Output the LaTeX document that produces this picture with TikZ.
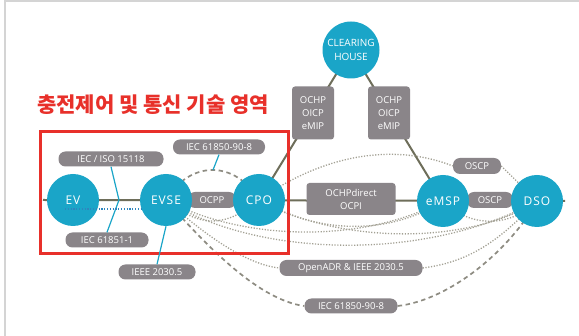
\documentclass[tikz,border=0pt]{standalone}
\usepackage{fontspec}
\setmainfont{Open Sans}
\newfontfamily\krfont{Noto Sans CJK KR}
\newfontfamily\actorfont[LetterSpace=8]{Open Sans}
\usetikzlibrary{backgrounds,calc}
\definecolor{evcyan}{HTML}{1AA5C8}
\definecolor{lblgray}{HTML}{8A8589}
\definecolor{olivegray}{HTML}{6E6E5A}
\definecolor{dotgray}{HTML}{A3A194}
\definecolor{dashgray}{HTML}{8E8C82}
\definecolor{boxred}{HTML}{E8302A}
\definecolor{dotblue}{HTML}{2E86BE}
\definecolor{framegray}{HTML}{D4D4D4}
\begin{document}
\begin{tikzpicture}[x=1pt,y=-1pt,
  actor/.style={circle,fill=evcyan,minimum size=52pt,inner sep=0pt,text=white,font=\actorfont\fontsize{12}{12}\selectfont},
  pill/.style={fill=lblgray,rounded corners=7pt,minimum height=15pt,inner sep=0pt,text=white,font=\fontsize{9.5}{11}\selectfont},
  tag/.style={fill=lblgray,rounded corners=3pt,inner sep=0pt,text=white,align=center,font=\fontsize{9.5}{13}\selectfont},
  solidlink/.style={draw=olivegray,line width=2pt},
  dotlink/.style={draw=dotgray,line width=1.3pt,dash pattern=on 1.2pt off 1.6pt},
  dashlink/.style={draw=dashgray,line width=1.7pt,dash pattern=on 4.5pt off 3.5pt},
  cyanlink/.style={draw=evcyan,line width=1.2pt},
]
\useasboundingbox (0,0) rectangle (579,336);

% labels
\node[pill,minimum width=105pt] (ISO) at (111,159) {IEC / ISO 15118};
\node[pill,minimum width=92pt] (IECa) at (219,147) {IEC 61850-90-8};
\node[pill,minimum width=83pt] (IECb) at (107,240) {IEC 61851-1};
\node[pill,minimum width=77pt] (IEEE) at (157,272) {IEEE 2030.5};
\node[pill,minimum width=48pt,minimum height=16pt] (OCPP) at (212,200) {OCPP};
\node[tag,minimum width=42pt,minimum height=53pt] (CHa) at (313,113) {OCHP\\OICP\\eMIP};
\node[tag,minimum width=42pt,minimum height=53pt] (CHb) at (389,113) {OCHP\\OICP\\eMIP};
\node[pill,minimum width=48pt,minimum height=16pt] (OSCPa) at (477,166) {OSCP};
\node[pill,minimum width=46pt,minimum height=16pt] (OSCPb) at (490,200) {OSCP};
\node[tag,minimum width=89pt,minimum height=32pt] (OCHPd) at (351,199) {OCHPdirect\\OCPI};
\node[pill,minimum width=143pt,minimum height=16pt] (OA) at (351,268) {OpenADR \& IEEE 2030.5};
\node[pill,minimum width=93pt] (IECc) at (351,306) {IEC 61850-90-8};

% actors
\node[actor] (EV) at (73,200) {EV};
\node[actor] (EVSE) at (166,200) {EVSE};
\node[actor] (CPO) at (259,200) {CPO};
\node[actor] (eMSP) at (443,201) {eMSP};
\node[actor] (DSO) at (537,201) {DSO};
\node[actor,minimum size=57pt,align=center,font=\fontsize{10}{14}\selectfont] (CH) at (351,50) {CLEARING\\HOUSE};

% red zone and title
\node[draw=boxred,line width=3pt,minimum width=248pt,minimum height=122pt,inner sep=0pt] (zone) at (164,193) {};
\node[text=boxred,font=\krfont\bfseries\fontsize{21}{21}\selectfont] (title) at (153,105) {충전제어 및 통신 기술 영역};

% coordinates
\coordinate (lineL) at (43,200);
\coordinate (lineR) at (565,201);
\coordinate (chev) at (119,200);
\coordinate (arcTop) at (213,170);
\coordinate (dotL) at (65,209);
\coordinate (dotR) at (143,209);
\coordinate (frBL) at (5,336);
\coordinate (frTL) at (5,1);
\coordinate (frTR) at (579,1);

\begin{scope}[on background layer]
  \fill[white] (0,0) rectangle (579,336);
  \draw[framegray,line width=1.5pt] (frBL) -- (frTL) -- (frTR);
  \draw[solidlink] (lineL) -- (lineR);
  \draw[solidlink] (CH.center) -- (CPO.center);
  \draw[solidlink] (CH.center) -- (eMSP.center);
  % upper dashed EVSE-CPO
  \draw[dashlink] (EVSE.center) .. controls (190,160) and (235,160) .. (CPO.center);
  % OSCP upper route
  \draw[dotlink] (CPO.center) .. controls (330,150) and (400,145) .. (OSCPa.west);
  \draw[dotlink] (OSCPa.east) -- (DSO.center);
  % lower fan
  \draw[dotlink] (EVSE.center) .. controls (200,228) and (225,228) .. (CPO.center);
  \draw[dotlink] (EVSE.center) .. controls (240,240) and (360,245) .. (eMSP.center);
  \draw[dotlink] (EVSE.center) .. controls (250,255) and (420,265) .. (DSO.center);
  \draw[dotlink] (CPO.center) .. controls (320,235) and (390,235) .. (eMSP.center);
  \draw[dotlink] (CPO.center) .. controls (340,245) and (470,245) .. (DSO.center);
  \draw[dotlink] (eMSP.center) .. controls (470,228) and (510,228) .. (DSO.center);
  \draw[dotlink] (EVSE.center) .. controls (210,240) and (250,265) .. (OA.west);
  \draw[dotlink] (OA.east) .. controls (470,262) and (500,240) .. (DSO.center);
  \draw[dashlink] (EVSE.center) .. controls (210,250) and (260,300) .. (IECc.west);
  \draw[dashlink] (IECc.east) .. controls (450,300) and (510,250) .. (DSO.center);
\end{scope}

% cyan connectors on top
\draw[cyanlink] (ISO.south) -- (chev) -- (IECb.north);
\draw[cyanlink] (EVSE.south) -- (IEEE.north);
\draw[cyanlink] (IECa.south) -- (arcTop);
\draw[dotblue,line width=1.2pt,dash pattern=on 1.2pt off 1.6pt] (dotL) -- (dotR);
\end{tikzpicture}
\end{document}
